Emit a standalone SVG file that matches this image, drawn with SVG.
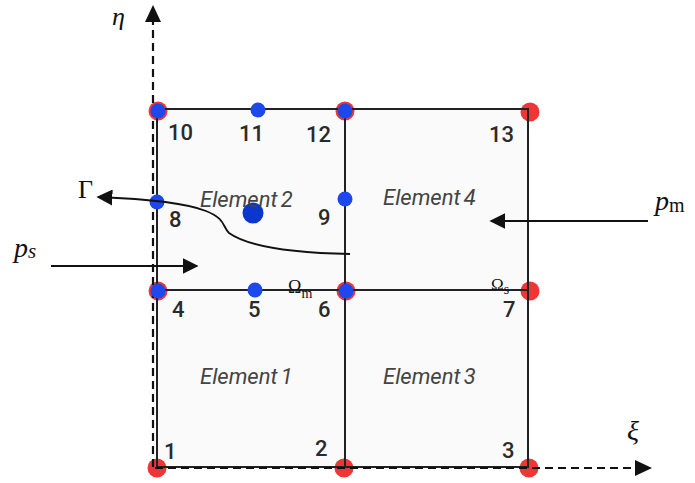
<svg xmlns="http://www.w3.org/2000/svg" width="695" height="483" viewBox="0 0 695 483">
<style>
.grid{fill:none;stroke:#222;stroke-width:2}
.axis{fill:none;stroke:#111;stroke-width:2.2;stroke-dasharray:8 5}
.red{fill:#ef3535}
.blue{fill:#1c48ee}
.num{font-family:Roboto,"Liberation Sans",sans-serif;font-size:22px;font-weight:500;fill:#2a2a2a}
.el{font-family:Roboto,"Liberation Sans",sans-serif;font-size:22px;font-style:italic;fill:#444;word-spacing:-2px}
.math{font-family:"Liberation Serif","DejaVu Serif",serif;fill:#111}
.conn{fill:none;stroke:#111;stroke-width:1.8}
</style>
<defs>
<marker id="ah" viewBox="0 0 10 10" refX="9" refY="5" markerWidth="16" markerHeight="16" markerUnits="userSpaceOnUse" orient="auto">
<path d="M0,0 L10,5 L0,10 Z" fill="#111"/>
</marker>
</defs>
<rect width="695" height="483" fill="#ffffff"/>
<g id="grid">
<rect x="157" y="109" width="371" height="358" fill="#fafafa" stroke="none"/>
</g>
<g id="red-nodes">
<circle class="red" cx="158" cy="111" r="9.5"/>
<circle class="red" cx="345" cy="111" r="9.5"/>
<circle class="red" cx="530" cy="112" r="9.5"/>
<circle class="red" cx="158" cy="291" r="9.5"/>
<circle class="red" cx="346" cy="291" r="9.5"/>
<circle class="red" cx="530" cy="291" r="9.5"/>
<circle class="red" cx="157" cy="468" r="9.5"/>
<circle class="red" cx="344" cy="468" r="9.5"/>
<circle class="red" cx="529" cy="468" r="9.5"/>
</g>
<g id="element-lines">
<rect class="grid" x="157" y="109" width="371" height="358"/>
<line class="grid" x1="345" y1="109" x2="345" y2="467"/>
<line class="grid" x1="157" y1="290" x2="528" y2="290"/>
</g>
<g id="axes">
<line class="axis" x1="153" y1="467" x2="153" y2="20"/>
<polygon points="153,5 145,22 161,22" fill="#111"/>
<line class="axis" x1="155" y1="468" x2="636" y2="468"/>
<polygon points="652,468 635,460 635,476" fill="#111"/>
<text class="math" x="112" y="25" font-size="26" font-style="italic">η</text>
<text class="math" x="627" y="440" font-size="28" font-style="italic">ξ</text>
</g>
<g id="blue-nodes">
<circle class="blue" cx="158" cy="111" r="7.5"/>
<circle class="blue" cx="258" cy="110" r="7.5"/>
<circle class="blue" cx="345" cy="111" r="7.5"/>
<circle class="blue" cx="157" cy="202" r="7.5"/>
<circle class="blue" cx="345" cy="199" r="7.5"/>
<circle class="blue" cx="158" cy="291" r="7.5"/>
<circle class="blue" cx="255" cy="290" r="7.5"/>
<circle class="blue" cx="346" cy="291" r="7.5"/>
<circle cx="253" cy="213" r="10.5" fill="#0b37cf"/>
</g>
<g id="node-labels">
<text class="num" x="168" y="140">10</text>
<text class="num" x="239" y="141">11</text>
<text class="num" x="306" y="142">12</text>
<text class="num" x="489" y="142">13</text>
<text class="num" x="169" y="227">8</text>
<text class="num" x="318" y="225">9</text>
<text class="num" x="172" y="317">4</text>
<text class="num" x="248" y="317">5</text>
<text class="num" x="318" y="317">6</text>
<text class="num" x="503" y="317">7</text>
<text class="num" x="164" y="459">1</text>
<text class="num" x="315" y="456">2</text>
<text class="num" x="502" y="458">3</text>
</g>
<g id="element-labels">
<text class="el" x="200" y="207">Element 2</text>
<text class="el" x="383" y="205">Element 4</text>
<text class="el" x="200" y="384">Element 1</text>
<text class="el" x="383" y="384">Element 3</text>
</g>
<g id="domain-labels">
<text class="math" x="288" y="293" font-size="18">Ω<tspan font-size="14" dy="5">m</tspan></text>
<text class="math" x="491" y="290" font-size="17">Ω<tspan font-size="14" dy="4">s</tspan></text>
</g>
<g id="connectors">
<path class="conn" d="M350,254 C300,253 250,248 229,233 C222,226 226,219 206,211 C186,203 150,199 98,197" marker-end="url(#ah)"/>
<line class="conn" x1="51" y1="266" x2="197" y2="266" marker-end="url(#ah)"/>
<line class="conn" x1="648" y1="221" x2="491" y2="221" marker-end="url(#ah)"/>
</g>
<g id="load-labels">
<text class="math" x="78" y="198" font-size="26">Γ</text>
<text class="math" x="14" y="257" font-size="28" font-style="italic">p<tspan font-size="21" dy="1">s</tspan></text>
<text class="math" x="655" y="210" font-size="28" font-style="italic">p<tspan font-size="20" font-style="normal" dy="2">m</tspan></text>
</g>
</svg>
